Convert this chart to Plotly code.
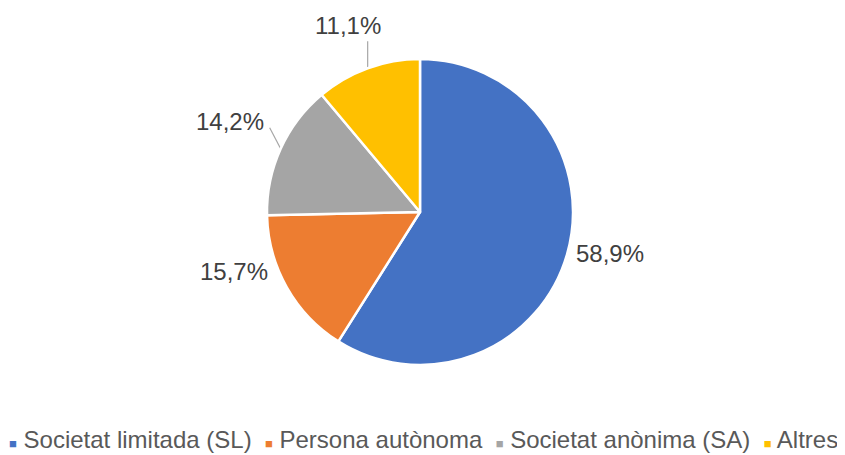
import math
import plotly.graph_objects as go

categories = ["Societat limitada (SL)", "Persona autònoma", "Societat anònima (SA)", "Altres"]
values = [58.9, 15.7, 14.2, 11.1]
value_labels = ["58,9%", "15,7%", "14,2%", "11,1%"]
colors = ["#4472C4", "#ED7D31", "#A5A5A5", "#FFC000"]

FONT = "Liberation Sans, Arial, sans-serif"
WIDTH, HEIGHT = 845, 455
MARGIN = dict(l=0, r=21, t=51, b=98)

# label placement styles (pixel offsets from the slice's outer edge midpoint)
label_offsets = [(7, -1, "left"), (-17, -16, "right"), (-15, -27, "right"), (-20, -43, "center")]
leader_ends = [None, None, (-11, -21), (0, -27)]

fig = go.Figure(go.Pie(
    labels=categories,
    values=values,
    textinfo="none",
    marker=dict(colors=colors, line=dict(color="white", width=2.5)),
    sort=False,
    direction="clockwise",
    rotation=0,
    hoverinfo="label+percent",
    automargin=False,
    showlegend=False,
))

plot_w = WIDTH - MARGIN["l"] - MARGIN["r"]
plot_h = HEIGHT - MARGIN["t"] - MARGIN["b"]
radius = min(plot_w, plot_h) / 2


def to_paper(dx, dy):
    return 0.5 + dx / plot_w, 0.5 - dy / plot_h


total = sum(values)
cum = 0.0
for val, lab, (ox, oy, anchor), lead in zip(values, value_labels, label_offsets, leader_ends):
    mid = (cum + val / 2) / total * 2 * math.pi
    cum += val
    rx = radius * math.sin(mid)
    ry = -radius * math.cos(mid)
    px, py = to_paper(rx + ox, ry + oy)
    fig.add_annotation(
        text=lab, xref="paper", yref="paper", x=px, y=py,
        xanchor=anchor, yanchor="middle", showarrow=False,
        font=dict(family=FONT, size=24, color="#404040"),
    )
    if lead is not None:
        x0, y0 = to_paper(rx, ry)
        x1, y1 = to_paper(rx + lead[0], ry + lead[1])
        fig.add_shape(type="line", xref="paper", yref="paper",
                      x0=x0, y0=y0, x1=x1, y1=y1,
                      line=dict(color="#A6A6A6", width=1.2), layer="below")

# Legend drawn as a single line of text, in the same order as the slices
parts = []
for cat, col in zip(categories, colors):
    parts.append(f"<span style='color:{col};font-size:13px'>■</span> {cat}")
legend_text = "  ".join(parts)

fig.add_annotation(
    text=legend_text, xref="paper", yref="paper", x=0.504, y=-0.245,
    xanchor="center", yanchor="middle", showarrow=False,
    font=dict(family=FONT, size=24, color="#595959"),
)

fig.update_layout(
    width=WIDTH, height=HEIGHT,
    margin=MARGIN,
    paper_bgcolor="white",
    plot_bgcolor="white",
)

fig.write_html("out.html")
